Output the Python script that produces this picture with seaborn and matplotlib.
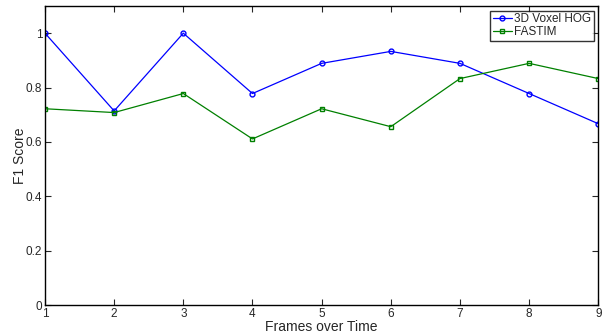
import pandas as pd
import seaborn as sns
import matplotlib.pyplot as plt

frames = [1, 2, 3, 4, 5, 6, 7, 8, 9]
voxel_hog = [1.0, 0.714, 1.0, 0.778, 0.889, 0.933, 0.889, 0.778, 0.667]
fastim = [0.722, 0.708, 0.778, 0.611, 0.722, 0.656, 0.833, 0.889, 0.833]

sns.set_style('white')
plt.rcParams['font.family'] = ['Liberation Sans', 'DejaVu Sans']

df = pd.DataFrame({'frame': frames * 2,
                   'score': voxel_hog + fastim,
                   'method': ['3D Voxel HOG'] * 9 + ['FASTIM'] * 9})

fig = plt.figure(figsize=(6.08, 3.33), dpi=100)
ax = fig.add_axes([0.074, 0.084, 0.91, 0.898])

sns.lineplot(data=df, x='frame', y='score', hue='method', style='method',
             palette=['#0000ff', '#008000'], markers=['o', 's'], dashes=False,
             markersize=3.5, linewidth=0.9, ax=ax, legend=False)

# matlab-style hollow markers
for ln in ax.get_lines():
    ln.set_markerfacecolor('none')
    ln.set_markeredgecolor(ln.get_color())
    ln.set_markeredgewidth(1)

ax.set_xlim(1, 9)
ax.set_ylim(0, 1.1)
ax.set_xticks(frames)
ax.set_yticks([0, 0.2, 0.4, 0.6, 0.8, 1.0])
ax.set_yticklabels(['0', '0.2', '0.4', '0.6', '0.8', '1'])
ax.tick_params(direction='in', length=4, width=0.8, labelsize=8.5,
               top=True, right=True, bottom=True, left=True, pad=2)
for s in ax.spines.values():
    s.set_color('black')
    s.set_linewidth(1)
ax.set_xlabel('Frames over Time', fontsize=10, labelpad=0)
ax.set_ylabel('F1 Score', fontsize=10, labelpad=-1)

leg = ax.legend(ax.get_lines()[:2], ['3D Voxel HOG', 'FASTIM'],
                loc='upper right', fontsize=8.5, frameon=True, fancybox=False,
                edgecolor='black', handlelength=1.6, borderpad=0.2,
                labelspacing=0.1, handletextpad=0.2, borderaxespad=0.4)
leg.get_frame().set_linewidth(1)

fig.savefig('out.png', dpi=100)
